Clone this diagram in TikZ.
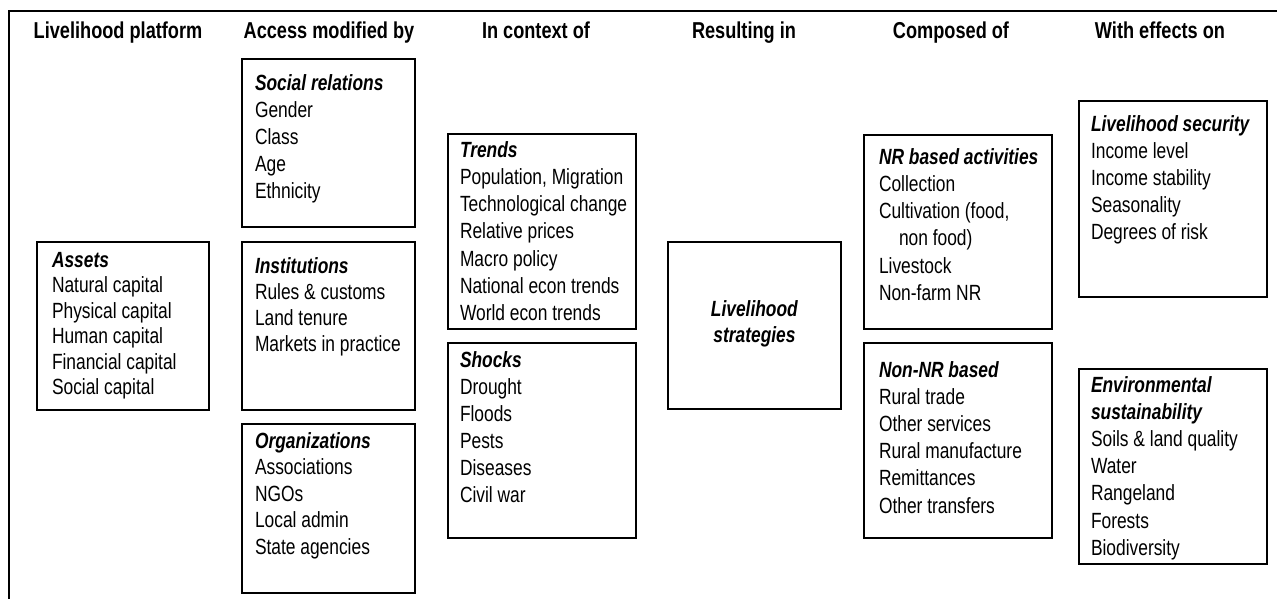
\documentclass[tikz,border=0pt]{standalone}
\usepackage{fontspec}
\setmainfont[FakeStretch=0.79]{Liberation Sans}
\usetikzlibrary{fit}
\newcommand\hstrut{\rule{0pt}{20pt}}
\newcommand\ttl[1]{\textbf{\textit{#1}}}
\begin{document}
\begin{tikzpicture}[x=1pt,y=-1pt,
  box/.style={draw, line width=1.6pt, inner sep=0pt, outer sep=0pt},
  txt/.style={inner sep=0pt, outer sep=0pt, align=left, anchor=north west, font=\fontsize{22}{#1}\selectfont},
  txt/.default=27,
  head/.style={inner sep=0pt, anchor=base, font=\fontsize{23}{26}\selectfont\bfseries},
  frame/.style={line width=2pt}]
\useasboundingbox (0,0) rectangle (1277,598);
% frame
\coordinate (fbl) at (9,599);
\coordinate (ftl) at (9,11);
\coordinate (ftr) at (1278,11);
\draw[frame] (fbl) -- (ftl) -- (ftr);
% headers
\node[head] (h1) at (118,38) {Livelihood platform};
\node[head] (h2) at (329,38) {Access modified by};
\node[head] (h3) at (536,38) {In context of};
\node[head] (h4) at (744,38) {Resulting in};
\node[head] (h5) at (951,38) {Composed of};
\node[head] (h6) at (1160,38) {With effects on};
% boxes
\node[box, fit={(37,242) (209,410)}] (assets) {};
\node[box, fit={(242,59) (415,227)}] (soc) {};
\node[box, fit={(242,242) (415,410)}] (inst) {};
\node[box, fit={(242,424) (415,593)}] (org) {};
\node[box, fit={(448,134) (636,329)}] (trends) {};
\node[box, fit={(448,343) (636,538)}] (shocks) {};
\node[box, fit={(668,242) (841,409)}] (strat) {};
\node[box, fit={(864,135) (1052,329)}] (nr) {};
\node[box, fit={(864,343) (1052,538)}] (nonnr) {};
\node[box, fit={(1079,101) (1267,297)}] (sec) {};
\node[box, fit={(1079,369) (1267,564)}] (env) {};
% texts
\node[txt=25.5] (assetsT) at (52,247) {\hstrut\ttl{Assets}\\Natural capital\\Physical capital\\Human capital\\Financial capital\\Social capital};
\node[txt=27] (socT) at (255,70) {\hstrut\ttl{Social relations}\\Gender\\Class\\Age\\Ethnicity};
\node[txt=26] (instT) at (255,253) {\hstrut\ttl{Institutions}\\Rules \& customs\\Land tenure\\Markets in practice};
\node[txt=26.5] (orgT) at (255,428) {\hstrut\ttl{Organizations}\\Associations\\NGOs\\Local admin\\State agencies};
\node[txt=27.3] (trendsT) at (460,137) {\hstrut\ttl{Trends}\\Population, Migration\\Technological change\\Relative prices\\Macro policy\\National econ trends\\World econ trends};
\node[txt=27] (shocksT) at (460,347) {\hstrut\ttl{Shocks}\\Drought\\Floods\\Pests\\Diseases\\Civil war};
\node[txt=26, align=center, anchor=north] (stratT) at (754.5,296) {\hstrut\ttl{Livelihood}\\\ttl{strategies}};
\node[txt=27.3] (nrT) at (879,144) {\hstrut\ttl{NR based activities}\\Collection\\Cultivation (food,\\\hspace*{20pt}non food)\\Livestock\\Non-farm NR};
\node[txt=27.2] (nonnrT) at (879,357) {\hstrut\ttl{Non-NR based}\\Rural trade\\Other services\\Rural manufacture\\Remittances\\Other transfers};
\node[txt=27.2] (secT) at (1091,111) {\hstrut\ttl{Livelihood security}\\Income level\\Income stability\\Seasonality\\Degrees of risk};
\node[txt=27.2] (envT) at (1091,372) {\hstrut\ttl{Environmental}\\\ttl{sustainability}\\Soils \& land quality\\Water\\Rangeland\\Forests\\Biodiversity};
\end{tikzpicture}
\end{document}
